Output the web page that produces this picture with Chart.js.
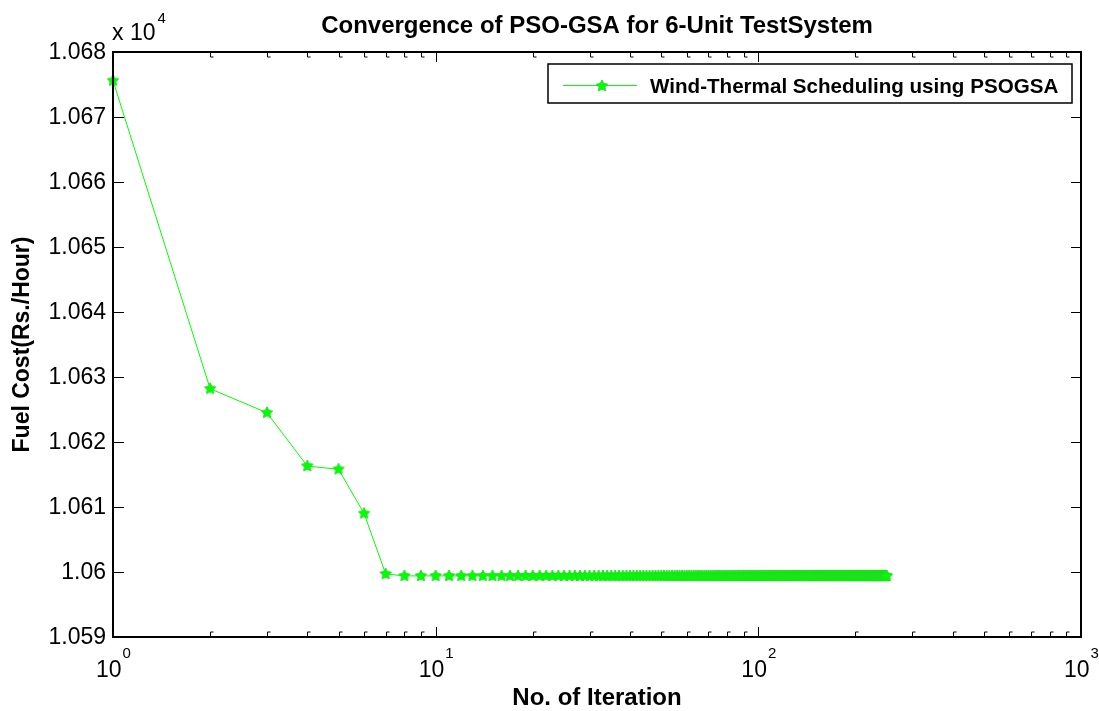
<!DOCTYPE html>
<html>
<head>
<meta charset="utf-8">
<script src="https://cdn.jsdelivr.net/npm/chart.js@4/dist/chart.umd.min.js"></script>
<style>
  html, body { margin: 0; padding: 0; background: #fff; }
  #wrap { width: 1099px; height: 711px; }
</style>
</head>
<body>
<div id="wrap"><canvas id="graph1" width="1099" height="711"></canvas></div>
<script>
// fuel cost per iteration (Rs./Hour)
const fuelCost = [
  10675.6, 10628.2, 10624.5, 10616.3, 10615.8, 10609.0, 10599.7, 10599.4, 10599.4, 10599.4,
  10599.4, 10599.4, 10599.4, 10599.4, 10599.4, 10599.4, 10599.4, 10599.4, 10599.4, 10599.4,
  10599.4, 10599.4, 10599.4, 10599.4, 10599.4, 10599.4, 10599.4, 10599.4, 10599.4, 10599.4,
  10599.4, 10599.4, 10599.4, 10599.4, 10599.4, 10599.4, 10599.4, 10599.4, 10599.4, 10599.4,
  10599.4, 10599.4, 10599.4, 10599.4, 10599.4, 10599.4, 10599.4, 10599.4, 10599.4, 10599.4,
  10599.4, 10599.4, 10599.4, 10599.4, 10599.4, 10599.4, 10599.4, 10599.4, 10599.4, 10599.4,
  10599.4, 10599.4, 10599.4, 10599.4, 10599.4, 10599.4, 10599.4, 10599.4, 10599.4, 10599.4,
  10599.4, 10599.4, 10599.4, 10599.4, 10599.4, 10599.4, 10599.4, 10599.4, 10599.4, 10599.4,
  10599.4, 10599.4, 10599.4, 10599.4, 10599.4, 10599.4, 10599.4, 10599.4, 10599.4, 10599.4,
  10599.4, 10599.4, 10599.4, 10599.4, 10599.4, 10599.4, 10599.4, 10599.4, 10599.4, 10599.4,
  10599.4, 10599.4, 10599.4, 10599.4, 10599.4, 10599.4, 10599.4, 10599.4, 10599.4, 10599.4,
  10599.4, 10599.4, 10599.4, 10599.4, 10599.4, 10599.4, 10599.4, 10599.4, 10599.4, 10599.4,
  10599.4, 10599.4, 10599.4, 10599.4, 10599.4, 10599.4, 10599.4, 10599.4, 10599.4, 10599.4,
  10599.4, 10599.4, 10599.4, 10599.4, 10599.4, 10599.4, 10599.4, 10599.4, 10599.4, 10599.4,
  10599.4, 10599.4, 10599.4, 10599.4, 10599.4, 10599.4, 10599.4, 10599.4, 10599.4, 10599.4,
  10599.4, 10599.4, 10599.4, 10599.4, 10599.4, 10599.4, 10599.4, 10599.4, 10599.4, 10599.4,
  10599.4, 10599.4, 10599.4, 10599.4, 10599.4, 10599.4, 10599.4, 10599.4, 10599.4, 10599.4,
  10599.4, 10599.4, 10599.4, 10599.4, 10599.4, 10599.4, 10599.4, 10599.4, 10599.4, 10599.4,
  10599.4, 10599.4, 10599.4, 10599.4, 10599.4, 10599.4, 10599.4, 10599.4, 10599.4, 10599.4,
  10599.4, 10599.4, 10599.4, 10599.4, 10599.4, 10599.4, 10599.4, 10599.4, 10599.4, 10599.4,
  10599.4, 10599.4, 10599.4, 10599.4, 10599.4, 10599.4, 10599.4, 10599.4, 10599.4, 10599.4,
  10599.4, 10599.4, 10599.4, 10599.4, 10599.4, 10599.4, 10599.4, 10599.4, 10599.4, 10599.4,
  10599.4, 10599.4, 10599.4, 10599.4, 10599.4, 10599.4, 10599.4, 10599.4, 10599.4, 10599.4,
  10599.4, 10599.4, 10599.4, 10599.4, 10599.4, 10599.4, 10599.4, 10599.4, 10599.4, 10599.4,
  10599.4, 10599.4, 10599.4, 10599.4, 10599.4, 10599.4, 10599.4, 10599.4, 10599.4, 10599.4
];

const yTickValues = [10590, 10600, 10610, 10620, 10630, 10640, 10650, 10660, 10670, 10680];
const yTickLabels = ['1.059', '1.06', '1.061', '1.062', '1.063', '1.064', '1.065', '1.066', '1.067', '1.068'];
const xTickExponents = [0, 1, 2, 3];

const seriesName = 'Wind-Thermal Scheduling using PSOGSA';
const titleText = 'Convergence of PSO-GSA for 6-Unit TestSystem';
const xTitle = 'No. of Iteration';
const yTitle = 'Fuel Cost(Rs./Hour)';

const GREEN = '#00ff00';
const FONT = '"Liberation Sans", Arial, Helvetica, sans-serif';

// pentagram marker
function makeStar(r) {
  const c = document.createElement('canvas');
  const s = Math.ceil(r * 2 + 2);
  c.width = s; c.height = s;
  const g = c.getContext('2d');
  g.translate(s / 2, s / 2);
  g.beginPath();
  for (let i = 0; i < 10; i++) {
    const rad = (i % 2 === 0) ? r : r * 0.5;
    const ang = -Math.PI / 2 + i * Math.PI / 5;
    g.lineTo(rad * Math.cos(ang), rad * Math.sin(ang));
  }
  g.closePath();
  g.fillStyle = GREEN;
  g.fill();
  g.strokeStyle = '#22dd22';
  g.lineWidth = 1;
  g.stroke();
  return c;
}
const star = makeStar(6);

// box, inward ticks and all the text, MATLAB style
const matlabAxes = {
  id: 'matlabAxes',
  afterDraw(chart) {
    const ctx = chart.ctx;
    const a = chart.chartArea;
    const x = chart.scales.x, y = chart.scales.y;
    ctx.save();
    ctx.strokeStyle = '#000';
    ctx.fillStyle = '#000';

    // ticks
    ctx.lineWidth = 1;
    ctx.beginPath();
    for (let k = 0; k < 3; k++) {
      for (let m = 2; m <= 9; m++) {
        const px = Math.round(x.getPixelForValue(m * Math.pow(10, k))) + 0.5;
        ctx.moveTo(px, a.bottom); ctx.lineTo(px, a.bottom - 5); ctx.lineTo(px + 3, a.bottom - 5);
        ctx.moveTo(px, a.top); ctx.lineTo(px, a.top + 5); ctx.lineTo(px + 3, a.top + 5);
      }
    }
    for (const e of xTickExponents) {
      const px = Math.round(x.getPixelForValue(Math.pow(10, e))) + 0.5;
      ctx.moveTo(px, a.bottom); ctx.lineTo(px, a.bottom - 10);
      ctx.moveTo(px, a.top); ctx.lineTo(px, a.top + 10);
    }
    for (const v of yTickValues) {
      const py = Math.round(y.getPixelForValue(v)) + 0.5;
      ctx.moveTo(a.left, py); ctx.lineTo(a.left + 11, py);
      ctx.moveTo(a.right, py); ctx.lineTo(a.right - 10, py);
    }
    ctx.stroke();

    // box
    ctx.lineWidth = 2;
    ctx.strokeRect(a.left, a.top, a.right - a.left, a.bottom - a.top);

    // y tick labels
    ctx.font = '23px ' + FONT;
    ctx.textAlign = 'right';
    ctx.textBaseline = 'middle';
    yTickValues.forEach((v, i) => {
      ctx.fillText(yTickLabels[i], a.left - 7, y.getPixelForValue(v) + 1);
    });

    // x tick labels 10^n
    ctx.textBaseline = 'alphabetic';
    ctx.textAlign = 'left';
    for (const e of xTickExponents) {
      const px = x.getPixelForValue(Math.pow(10, e));
      ctx.font = '23px ' + FONT;
      const w1 = ctx.measureText('10').width;
      ctx.font = '15px ' + FONT;
      const w2 = ctx.measureText(String(e)).width;
      const x0 = px - (w1 + w2) / 2;
      ctx.font = '23px ' + FONT;
      ctx.fillText('10', x0, a.bottom + 40);
      ctx.font = '15px ' + FONT;
      ctx.fillText(String(e), x0 + w1 + 1, a.bottom + 21);
    }

    // exponent multiplier
    ctx.font = '23px ' + FONT;
    ctx.fillText('x 10', a.left - 1, 40);
    const wm = ctx.measureText('x 10').width;
    ctx.font = '15px ' + FONT;
    ctx.fillText('4', a.left + wm + 1, 23);

    // title and axis titles
    ctx.textAlign = 'center';
    ctx.font = 'bold 24px ' + FONT;
    ctx.fillText(titleText, (a.left + a.right) / 2, 33);
    ctx.fillText(xTitle, (a.left + a.right) / 2, 705);
    ctx.save();
    ctx.font = 'bold 23px ' + FONT;
    ctx.translate(29, (a.top + a.bottom) / 2);
    ctx.rotate(-Math.PI / 2);
    ctx.fillText(yTitle, 0, 0);
    ctx.restore();

    // legend
    const lx = 548, ly = 64, lw = 524, lh = 39;
    ctx.fillStyle = '#fff';
    ctx.fillRect(lx, ly, lw, lh);
    ctx.lineWidth = 1.5;
    ctx.strokeStyle = '#000';
    ctx.strokeRect(lx, ly, lw, lh);
    ctx.strokeStyle = GREEN;
    ctx.lineWidth = 1;
    ctx.beginPath();
    ctx.moveTo(563, 85.5); ctx.lineTo(637, 85.5);
    ctx.stroke();
    ctx.drawImage(star, 602 - star.width / 2, 86 - star.height / 2);
    ctx.fillStyle = '#000';
    ctx.textAlign = 'left';
    ctx.font = 'bold 20.6px ' + FONT;
    ctx.fillText(seriesName, 650, 93);

    ctx.restore();
  }
};

window.addEventListener('load', function () {
  const ctx = document.getElementById('graph1').getContext('2d');
  new Chart(ctx, {
    type: 'line',
    data: {
      datasets: [{
        label: seriesName,
        data: fuelCost.map((v, i) => ({ x: i + 1, y: v })),
        borderColor: GREEN,
        backgroundColor: GREEN,
        borderWidth: 1,
        pointStyle: star,
        pointRadius: 6,
        pointHoverRadius: 6,
        tension: 0,
        clip: false
      }]
    },
    options: {
      responsive: false,
      animation: false,
      devicePixelRatio: 1,
      layout: { padding: { left: 113, right: 18, top: 52, bottom: 74 } },
      plugins: {
        legend: { display: false },
        title: { display: false },
        tooltip: { enabled: false }
      },
      events: [],
      scales: {
        x: { type: 'logarithmic', min: 1, max: 1000, display: false },
        y: { type: 'linear', min: 10590, max: 10680, display: false }
      }
    },
    plugins: [matlabAxes]
  });
});
</script>
</body>
</html>
